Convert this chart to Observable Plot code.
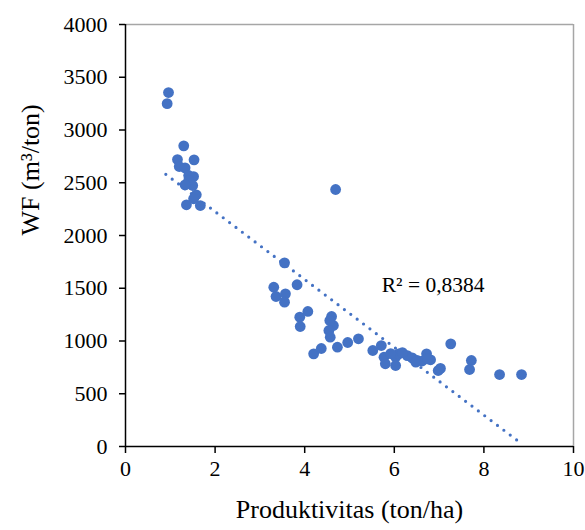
<!DOCTYPE html>
<html>
<head>
<meta charset="utf-8">
<script src="https://cdn.jsdelivr.net/npm/d3@7"></script>
<script src="https://cdn.jsdelivr.net/npm/@observablehq/plot@0.6"></script>
<style>
  html, body { margin: 0; padding: 0; background: #fff; }
  #chart svg { display: block; }
</style>
</head>
<body>
<div id="chart"></div>
<script>
// Productivity (ton/ha)
const productivity = [
  0.96, 0.93, 1.30, 1.16, 1.53, 1.20, 1.33, 1.41, 1.52, 1.41, 1.50, 1.33, 1.58, 1.52, 1.36, 1.67,
  3.55, 3.31, 3.36, 3.57, 3.55, 3.83, 3.89, 4.07, 3.90,
  4.60, 4.64, 4.56, 4.54, 4.57, 4.20, 4.37, 4.73, 4.96, 5.20,
  5.52, 5.71, 5.77, 5.80, 6.03, 6.10, 6.29, 6.03, 6.51, 6.72, 6.81, 6.98, 7.03,
  5.92, 6.18, 6.40, 6.62, 6.74, 6.48,
  7.26, 7.72, 7.68, 8.35, 8.84, 4.69
];
// Water footprint WF (m3/ton)
const wf = [
  3355, 3250, 2850, 2720, 2717, 2654, 2641, 2569, 2559, 2521, 2474, 2480, 2386, 2348, 2291, 2284,
  1741, 1510, 1422, 1447, 1368, 1533, 1226, 1280, 1137,
  1232, 1147, 1194, 1100, 1036, 878, 929, 941, 986, 1021,
  910, 957, 846, 784, 846, 878, 862, 768, 815, 878, 822, 720, 740,
  880, 890, 840, 810, 830, 800,
  973, 815, 730, 682, 682, 2436
];
// Linear trendline endpoints
const trendX = [0.9, 8.8];
const trendY = [2580, 40];
const r2Label = ["R\u00B2 = 0,8384"];
const r2X = [5.72];
const r2Y = [1460];
const xTicks = [0, 2, 4, 6, 8, 10];
const yTicks = [0, 500, 1000, 1500, 2000, 2500, 3000, 3500, 4000];
const xTitle = "Produktivitas (ton/ha)";
const yTitle = "WF (m\u00B3/ton)";

const points = productivity.map((x, i) => ({x, y: wf[i]}));
const trend = trendX.map((x, i) => ({x, y: trendY[i]}));
const blue = "#4472C4";
const font = "'Liberation Serif', serif";

const chart = Plot.plot({
  width: 585,
  height: 530,
  marginLeft: 125,
  marginRight: 12,
  marginTop: 24,
  marginBottom: 84,
  style: {fontFamily: font, fontSize: "22px", color: "#000", background: "#fff", overflow: "visible"},
  x: {domain: [0, 10], ticks: xTicks},
  y: {domain: [0, 4000], ticks: yTicks},
  marks: [
    Plot.ruleY([4000], {stroke: "#a6a6a6", strokeWidth: 1.5}),
    Plot.ruleX([10], {stroke: "#a6a6a6", strokeWidth: 1.5}),
    Plot.line(trend, {x: "x", y: "y", stroke: blue, strokeWidth: 3.2, strokeDasharray: "0 8", strokeLinecap: "round"}),
    Plot.dot(points, {x: "x", y: "y", r: 5.4, fill: blue, stroke: "none"}),
    Plot.ruleX([0], {stroke: "#000", strokeWidth: 1.5}),
    Plot.ruleY([0], {stroke: "#000", strokeWidth: 1.5}),
    Plot.axisX({ticks: xTicks, tickFormat: d => String(d), tickSize: 7, tickPadding: 7, stroke: "#000", strokeWidth: 1.5, label: null, fontSize: 22}),
    Plot.axisY({ticks: yTicks, tickFormat: d => String(d), tickSize: 6, tickPadding: 12, stroke: "#000", strokeWidth: 1.5, label: null, fontSize: 22}),
    Plot.text(r2Label, {x: r2X, y: r2Y, text: d => d, textAnchor: "start", lineAnchor: "bottom", fontSize: 21.5, fill: "#000"}),
    Plot.text([xTitle], {frameAnchor: "bottom", dy: 71, text: d => d, fontSize: 26, fill: "#000"}),
    Plot.text([yTitle], {frameAnchor: "left", dx: -95, rotate: -90, text: d => d, fontSize: 26, fill: "#000"})
  ]
});
document.getElementById("chart").appendChild(chart);
</script>
</body>
</html>
